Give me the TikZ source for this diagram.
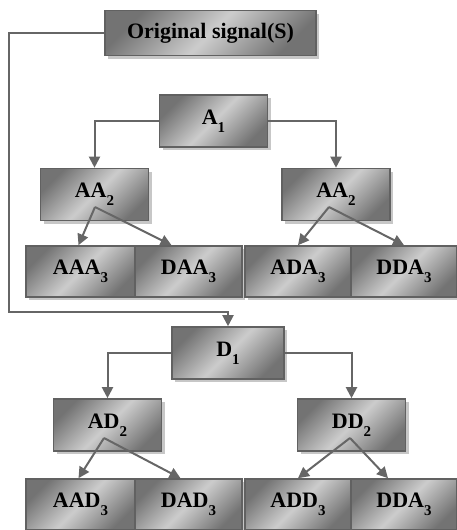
\documentclass[tikz,border=0pt]{standalone}
\usepackage{fontspec}
\setmainfont{Liberation Serif}
\usetikzlibrary{arrows.meta,shadows}
\newcommand\lvl[1]{\raisebox{-.38em}{\fontsize{15}{15}\selectfont #1}}
\tikzset{
  blk/.style={draw=black!62,line width=1.6pt,font=\bfseries\fontsize{22}{24}\selectfont,
    top color=black!55,bottom color=black!55,middle color=black!20,shading angle=45,
    minimum width=108pt,minimum height=52pt,inner sep=0pt,
    drop shadow={shadow xshift=3pt,shadow yshift=-3pt,fill=black!22,opacity=1}},
  conn/.style={draw=black!60,line width=2pt,-{Triangle[length=11pt,width=11pt]}},
}
\begin{document}
\begin{tikzpicture}[x=1pt,y=-1pt]
	\useasboundingbox (0,0) rectangle (457,530);
	% top part
	\node[blk,minimum width=211pt,minimum height=45pt] (sig) at (210.5,33) {Original signal(S)};
	\node[blk] (a1) at (213.5,121) {A\lvl{1}};
	\node[blk] (aa2l) at (94.5,194.5) {AA\lvl{2}};
	\node[blk] (aa2r) at (336,194.5) {AA\lvl{2}};
	\node[blk,minimum width=109pt,minimum height=51pt] (aaa3) at (80.5,271.5) {AAA\lvl{3}};
	\node[blk,minimum width=107pt,minimum height=51pt] (daa3) at (188.5,271.5) {DAA\lvl{3}};
	\node[blk,minimum width=106pt,minimum height=51pt] (ada3) at (298,271.5) {ADA\lvl{3}};
	\node[blk,minimum width=106pt,minimum height=51pt] (dda3) at (404,271.5) {DDA\lvl{3}};
	% bottom part
	\node[blk,minimum width=112pt] (d1) at (228,353) {D\lvl{1}};
	\node[blk] (ad2) at (107.5,425) {AD\lvl{2}};
	\node[blk] (dd2) at (351.5,425) {DD\lvl{2}};
	\node[blk,minimum width=109pt,minimum height=51pt] (aad3) at (80.5,504.5) {AAD\lvl{3}};
	\node[blk,minimum width=107pt,minimum height=51pt] (dad3) at (188.5,504.5) {DAD\lvl{3}};
	\node[blk,minimum width=106pt,minimum height=51pt] (add3) at (298,504.5) {ADD\lvl{3}};
	\node[blk,minimum width=106pt,minimum height=51pt] (ddb3) at (404,504.5) {DDA\lvl{3}};

	\coordinate (lp) at (9,312);
	\coordinate (s1) at (95,207);
	\coordinate (s2) at (329,207);
	\coordinate (s3) at (104,438);
	\coordinate (s4) at (350,438);

	\draw[conn] (sig.west) -| (lp) -| (d1.north);
	\draw[conn] (a1.west) -| (aa2l.north);
	\draw[conn] (a1.east) -| (aa2r.north);
	\draw[conn] (d1.west) -| (ad2.north);
	\draw[conn] (d1.east) -| (dd2.north);

	\draw[conn] (s1) -- ([xshift=-2pt]aaa3.north);
	\draw[conn] (s1) -- ([xshift=-17pt]daa3.north);
	\draw[conn] (s2) -- (ada3.north);
	\draw[conn] (s2) -- (dda3.north);
	\draw[conn] (s3) -- ([xshift=-2pt]aad3.north);
	\draw[conn] (s3) -- ([xshift=-8pt]dad3.north);
	\draw[conn] (s4) -- (add3.north);
	\draw[conn] (s4) -- ([xshift=-16pt]ddb3.north);
\end{tikzpicture}
\end{document}
